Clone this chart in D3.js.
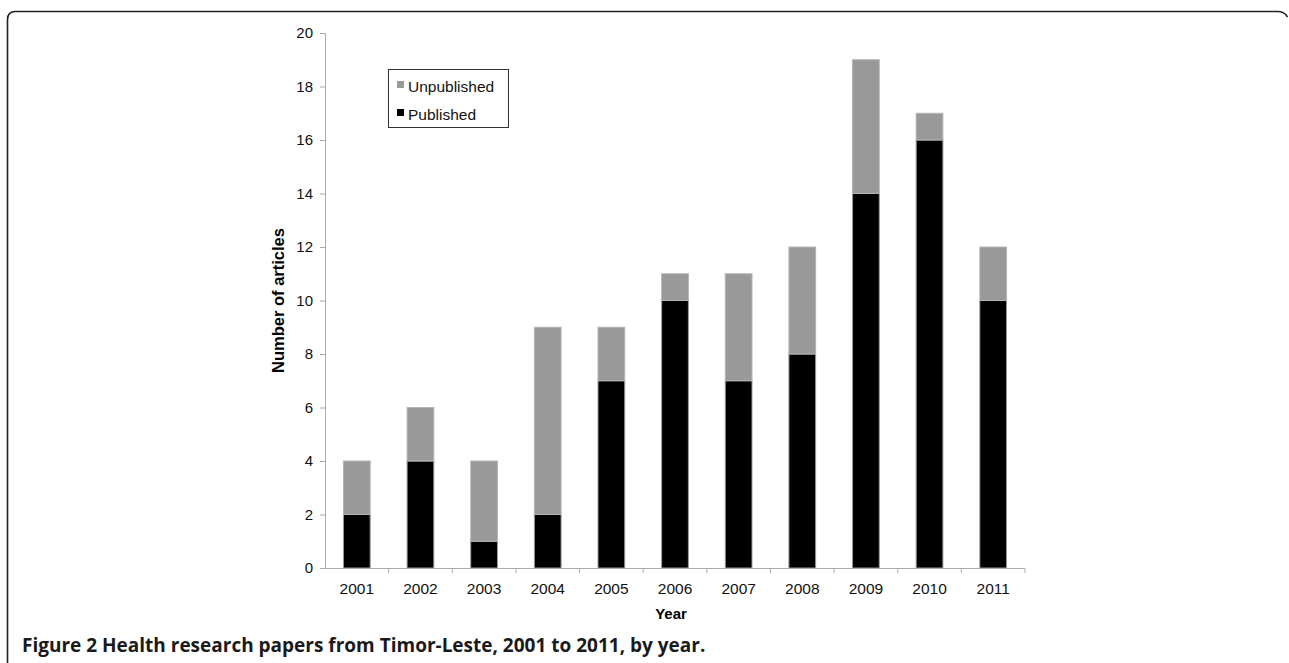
<!DOCTYPE html>
<html lang="en">
<head>
<meta charset="utf-8">
<title>Health research papers from Timor-Leste</title>
<script src="https://d3js.org/d3.v7.min.js"></script>
<style>
  body { margin: 0; background: #fff; }
  svg { display: block; }
</style>
</head>
<body>
<div id="chart"></div>
<script>
// data
var years = ["2001","2002","2003","2004","2005","2006","2007","2008","2009","2010","2011"];
var published   = [2, 4, 1, 2, 7, 10, 7, 8, 14, 16, 10];
var unpublished = [2, 2, 3, 7, 2, 1, 4, 4, 5, 1, 2];
var yTicks = [0, 2, 4, 6, 8, 10, 12, 14, 16, 18, 20];

var W = 1289, H = 663;
var margin = {left: 325, right: 264, top: 33, bottom: 95};
var plotW = W - margin.left - margin.right,
    plotH = H - margin.top - margin.bottom;
var axisFont = "Liberation Sans, Arial, sans-serif";

var svg = d3.select("#chart").append("svg")
    .attr("width", W).attr("height", H);

// rounded frame around the figure
svg.append("path")
    .attr("d", "M7.5," + H + " V19.5 Q7.5,11.5 15.5,11.5 H1277.5 Q1284.5,11.5 1287.5,17")
    .attr("fill", "none").attr("stroke", "#222").attr("stroke-width", 1.6);

var g = svg.append("g").attr("transform", "translate(" + margin.left + "," + margin.top + ")");

var x = d3.scaleBand().domain(years).range([0, plotW]).paddingInner(0.58).paddingOuter(0.29);
var y = d3.scaleLinear().domain([0, 20]).range([plotH, 0]);

var rows = years.map(function(yr, i) {
  return {year: yr, pub: published[i], unpub: unpublished[i]};
});

// published (bottom)
g.selectAll(".pub").data(rows).enter().append("rect")
    .attr("x", function(d){ return x(d.year); })
    .attr("width", x.bandwidth())
    .attr("y", function(d){ return y(d.pub); })
    .attr("height", function(d){ return y(0) - y(d.pub); })
    .attr("fill", "#000").attr("stroke", "#9a9a9a").attr("stroke-width", 1);

// unpublished (stacked on top)
g.selectAll(".unpub").data(rows).enter().append("rect")
    .attr("x", function(d){ return x(d.year); })
    .attr("width", x.bandwidth())
    .attr("y", function(d){ return y(d.pub + d.unpub); })
    .attr("height", function(d){ return y(d.pub) - y(d.pub + d.unpub); })
    .attr("fill", "#999").attr("stroke", "#b5b5b5").attr("stroke-width", 1);

// y axis
var yAxis = g.append("g").call(d3.axisLeft(y).tickValues(yTicks).tickSize(5).tickPadding(7));
yAxis.select(".domain").attr("stroke", "#aaa").attr("d", "M-5,0.5 H0.5 V" + plotH);
yAxis.selectAll(".tick line").attr("stroke", "#aaa");
yAxis.selectAll("text").attr("font-family", axisFont)
    .attr("font-size", 15).attr("fill", "#111");

// x axis with ticks between categories
var xAxis = g.append("g").attr("transform", "translate(0," + plotH + ")")
    .call(d3.axisBottom(x).tickSize(0).tickPadding(15));
xAxis.select(".domain").attr("stroke", "#aaa").attr("d", "M-5,0.5 H" + plotW + " V5");
xAxis.selectAll("text").attr("font-family", axisFont)
    .attr("font-size", 15.5).attr("fill", "#111");
g.append("g").attr("transform", "translate(0," + plotH + ")")
  .selectAll("line").data(years.slice(1)).enter().append("line")
    .attr("x1", function(d){ return x(d) - x.step() * x.paddingInner() / 2; })
    .attr("x2", function(d){ return x(d) - x.step() * x.paddingInner() / 2; })
    .attr("y1", 0).attr("y2", 5)
    .attr("stroke", "#aaa");

// axis titles
svg.append("text")
    .attr("transform", "translate(284," + (margin.top + plotH / 2) + ") rotate(-90)")
    .attr("text-anchor", "middle")
    .attr("font-family", axisFont)
    .attr("font-size", 16.5).attr("font-weight", "bold")
    .text("Number of articles");
svg.append("text")
    .attr("x", margin.left + plotW / 2 - 4).attr("y", 619)
    .attr("text-anchor", "middle")
    .attr("font-family", axisFont)
    .attr("font-size", 15).attr("font-weight", "bold")
    .text("Year");

// legend
var leg = svg.append("g").attr("transform", "translate(388,69)");
leg.append("rect").attr("x", 0.5).attr("y", 0.5).attr("width", 120).attr("height", 58)
    .attr("fill", "#fff").attr("stroke", "#333").attr("stroke-width", 1);
var legItems = [{label: "Unpublished", color: "#999"}, {label: "Published", color: "#000"}];
legItems.forEach(function(it, i) {
  leg.append("rect").attr("x", 9).attr("y", 12 + i * 28).attr("width", 7).attr("height", 7)
      .attr("fill", it.color);
  leg.append("text").attr("x", 20).attr("y", 23 + i * 28)
      .attr("font-family", axisFont)
      .attr("font-size", 15.5).attr("fill", "#111")
      .text(it.label);
});

// caption
var cap = svg.append("text").attr("x", 22).attr("y", 652)
    .attr("font-family", "Open Sans, Noto Sans, sans-serif")
    .attr("font-size", 19).attr("font-weight", "bold").attr("fill", "#1a1a1a");
cap.append("tspan").text("Figure 2");
cap.append("tspan").text(" Health research papers from Timor-Leste, 2001 to 2011, by year.");
</script>
</body>
</html>
